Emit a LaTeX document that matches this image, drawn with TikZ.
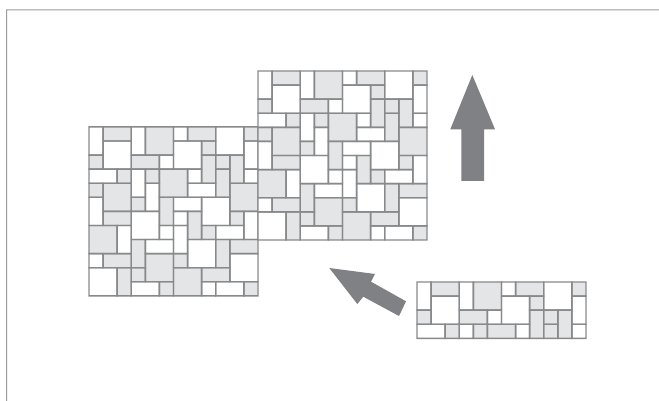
\documentclass[tikz,border=0pt]{standalone}
\definecolor{tilegray}{HTML}{E4E5E7}
\definecolor{tileline}{HTML}{88898B}
\definecolor{arrowgray}{HTML}{808184}
\definecolor{framegray}{HTML}{9B9B9B}
\tikzset{
  fillW/.style={fill=white},
  fillG/.style={fill=tilegray},
  tileedge/.style={fill=tileline,even odd rule},
  bigarrow/.style={fill=arrowgray,draw=none},
  frameline/.style={fill=framegray,even odd rule}
}
% column / row / width / height / kind
\newcommand{\toptiles}{0/0/1/2/W,1/0/2/1/G,3/0/1/2/W,4/0/2/2/G,6/0/1/1/W,7/0/2/1/G,9/0/2/2/W,11/0/1/1/G,
  1/1/2/2/W,6/1/2/2/W,8/1/1/1/G,11/1/1/2/W,
  0/2/1/1/G,3/2/2/1/G,5/2/1/1/W,9/2/1/1/G}
\newcommand{\fulltiles}{8/2/1/2/G,10/2/1/2/G,
  0/3/2/1/W,2/3/1/1/G,3/3/1/2/W,4/3/1/1/G,5/3/2/2/G,7/3/1/1/W,9/3/1/2/G,11/3/1/1/W,
  0/4/1/1/G,1/4/2/2/G,4/4/1/2/W,7/4/2/1/W,10/4/2/2/G,
  0/5/1/2/W,3/5/1/1/G,5/5/1/2/G,6/5/2/1/W,8/5/2/2/W,
  1/6/2/1/G,3/6/2/2/W,6/6/1/1/W,7/6/1/2/G,10/6/1/1/G,11/6/1/2/W,
  0/7/2/2/G,2/7/1/2/W,5/7/1/1/W,6/7/1/2/W,8/7/1/1/G,9/7/2/1/W,
  3/8/1/2/G,4/8/2/1/W,7/8/2/2/W,9/8/1/2/G,10/8/2/1/G,
  0/9/1/1/W,1/9/2/1/G,4/9/2/2/G,6/9/1/1/G,10/9/2/2/W,
  0/10/2/2/W,2/10/1/2/G,3/10/1/1/G,6/10/2/2/G,8/10/2/1/G,
  3/11/2/1/W,5/11/1/1/G,8/11/1/1/W,9/11/2/1/W,11/11/1/1/G}
\newcommand{\striptiles}{8/2/1/2/G,10/2/1/2/G,
  0/3/2/1/W,2/3/1/1/G,3/3/1/1/W,4/3/1/1/G,5/3/2/1/G,7/3/1/1/W,9/3/1/1/G,11/3/1/1/W}
\newcommand{\filltiles}[1]{%
  \foreach \c/\r/\w/\h/\k in #1 {
    \fill[fill\k] ({\c*14.08},{\r*14.08}) rectangle ({(\c+\w)*14.08},{(\r+\h)*14.08});
  }}
% each outline is a filled ring, half a line width either side of the tile edge
\newcommand{\edgetiles}[1]{%
  \foreach \c/\r/\w/\h/\k in #1 {
    \fill[tileedge]
      ({\c*14.08-0.7},{\r*14.08-0.7}) rectangle ({(\c+\w)*14.08+0.7},{(\r+\h)*14.08+0.7})
      ({\c*14.08+0.7},{\r*14.08+0.7}) rectangle ({(\c+\w)*14.08-0.7},{(\r+\h)*14.08-0.7});
  }}
\begin{document}
\begin{tikzpicture}[x=1pt,y=-1pt]
\useasboundingbox (0,0) rectangle (659,401);
\fill[white] (0,0) rectangle (659,401);
% frame
\fill[frameline] (6,401) -- (6,9.3) -- (659,9.3) -- (659,10.3) -- (7,10.3) -- (7,401) -- cycle;
% patches
\begin{scope}[shift={(89,126.9)}]
  \filltiles{\toptiles}
  \filltiles{\fulltiles}
  \edgetiles{\toptiles}
  \edgetiles{\fulltiles}
\end{scope}
\begin{scope}[shift={(258,71)}]
  \filltiles{\toptiles}
  \filltiles{\fulltiles}
  \edgetiles{\toptiles}
  \edgetiles{\fulltiles}
\end{scope}
\begin{scope}[shift={(417,282)}]
  \filltiles{\toptiles}
  \filltiles{\striptiles}
  \edgetiles{\toptiles}
  \edgetiles{\striptiles}
\end{scope}
% arrows
\fill[bigarrow] (472.3,75) -- (495,129.3) -- (484,129.3) -- (484,181) -- (461.3,181) -- (461.3,129.3) -- (450.3,129.3) -- cycle;
\fill[bigarrow] (329.3,268) -- (375,274) -- (371,281.7) -- (406,301.3) -- (399,316) -- (363.3,296.7) -- (357.3,304) -- cycle;
\end{tikzpicture}
\end{document}
